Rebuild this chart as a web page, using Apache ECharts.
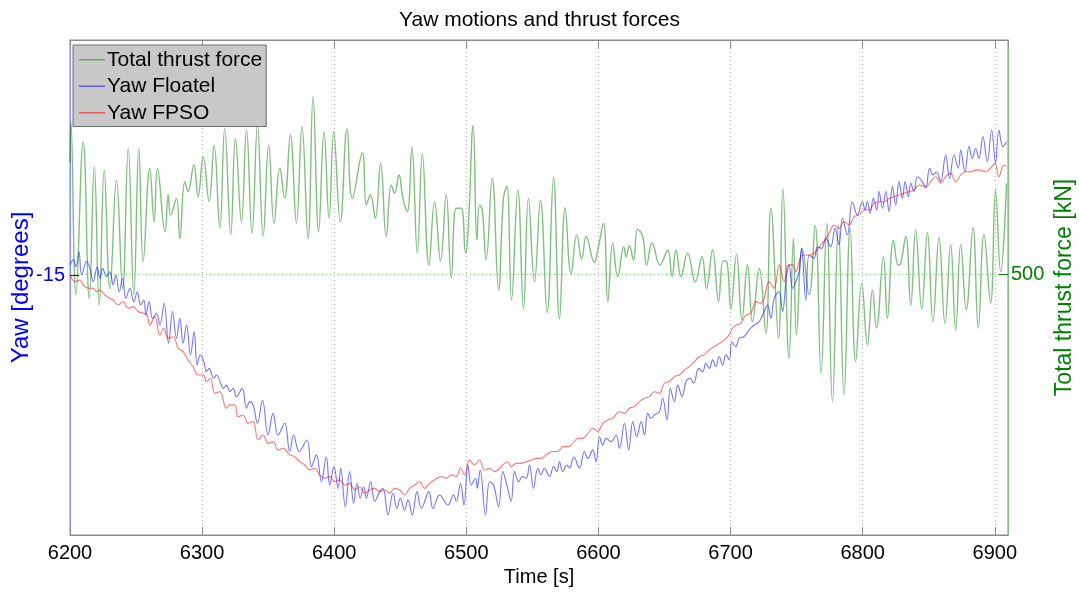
<!DOCTYPE html>
<html>
<head>
<meta charset="utf-8">
<title>Yaw motions and thrust forces</title>
<script src="https://cdn.jsdelivr.net/npm/echarts@6/dist/echarts.min.js"></script>
<style>
  html, body { margin: 0; padding: 0; background: #fff; }
  #chart { width: 1079px; height: 593px; }
</style>
</head>
<body>
<div id="chart"></div>
<script>
// Total thrust force [kN] (right axis)
const thrustTime = [6200,6200.7,6204.5,6210.0,6214.6,6218.4,6222.1,6225.9,6230.2,6235.2,6239.8,6244.1,6248.3,6252.1,6255.4,6260.4,6263.7,6266.2,6272.0,6274.3,6276.3,6280.6,6283.1,6286.9,6289.4,6293.7,6297.0,6300.8,6305.3,6309.1,6313.4,6317.1,6321.7,6325.2,6329.8,6333.6,6337.8,6341.9,6346.2,6350.4,6354.5,6358.8,6362.5,6366.8,6371.4,6375.6,6380.2,6384.0,6388.2,6392.3,6396.1,6399.6,6404.6,6409.7,6413.7,6421.3,6424.3,6427.3,6431.1,6435.1,6439.4,6443.2,6445.7,6449.0,6452.0,6455.3,6458.8,6462.9,6466.7,6471.7,6476.0,6480.5,6484.8,6488.6,6492.4,6496.1,6499.4,6501.2,6505.2,6508.0,6510.0,6512.0,6515.0,6519.6,6524.4,6528.1,6530.7,6534.2,6539.0,6543.3,6547.0,6551.6,6556.1,6561.2,6566.0,6570.5,6574.8,6579.3,6583.6,6587.4,6590.7,6597.0,6599.5,6603.8,6607.1,6610.8,6614.6,6619.2,6620.9,6623.4,6626.5,6629.7,6633.5,6636.5,6640.6,6646.6,6652.4,6655.7,6658.7,6662.5,6667.5,6673.3,6678.4,6681.8,6686.4,6690.9,6694.4,6697.0,6700.2,6704.5,6708.6,6712.8,6716.6,6721.7,6726.7,6730.5,6736.3,6739.6,6744.3,6747.6,6749.9,6754.4,6759.5,6764.0,6768.5,6772.8,6777.1,6781.6,6785.9,6790.5,6794.7,6799.3,6803.6,6807.4,6810.4,6815.7,6818.7,6823.3,6827.0,6828.8,6832.6,6836.4,6840.1,6844.7,6849.0,6853.2,6857.8,6862.3,6866.6,6870.4,6874.2,6878.4,6883.5,6887.5,6891.8,6896.8,6900.6,6904.4,6908.9];
const thrustKN = [716,793,461,755,454,707,441,700,473,681,473,742,461,742,525,704,601,704,582,653,614,646,569,678,659,710,649,726,640,748,589,780,576,761,601,777,579,787,573,748,598,704,646,768,598,784,569,841,582,774,608,774,601,780,646,733,633,653,608,713,573,672,656,691,646,621,745,541,731,518,640,526,653,494,627,627,541,576,786,566,633,624,528,685,470,646,669,451,662,434,646,486,642,427,686,415,628,502,576,529,573,523,547,598,448,560,496,553,534,555,528,587,573,518,560,518,547,496,547,496,541,486,534,473,547,448,526,525,434,539,413,519,409,512,387,627,377,665,339,569,384,550,461,594,310,598,256,595,269,589,333,483,365,470,397,534,416,566,518,521,573,441,585,434,581,409,571,406,557,393,557,432,590,397,577,445,662,505,675];

// Yaw of the floatel [degrees] (left axis)
const floatelTime = [6200.0,6202.5,6204.5,6206.8,6208.8,6212.6,6215.1,6217.6,6220.6,6222.6,6224.7,6227.7,6230.2,6232.7,6234.7,6237.3,6239.8,6242.3,6245.3,6248.3,6250.9,6253.4,6255.9,6257.4,6259.9,6262.5,6265.5,6268.0,6271.3,6274.6,6277.6,6280.6,6283.1,6285.6,6288.2,6291.2,6294.0,6296.2,6298.7,6301.3,6303.3,6305.3,6308.8,6310.8,6314.6,6315.9,6318.4,6321.0,6323.5,6326.0,6330.3,6333.6,6336.1,6338.6,6341.9,6345.7,6349.9,6353.7,6357.5,6362.5,6366.3,6369.3,6373.4,6379.4,6382.7,6386.5,6390.3,6394.0,6396.6,6399.8,6402.9,6404.9,6408.4,6411.7,6414.7,6417.2,6419.7,6422.3,6424.3,6427.6,6430.6,6434.4,6436.9,6440.7,6444.5,6447.5,6450.0,6453.3,6455.8,6459.1,6462.6,6465.9,6471.7,6474.7,6479.8,6486.1,6490.3,6492.4,6495.6,6498.2,6501.2,6503.7,6507.0,6508.2,6510.5,6514.5,6517.6,6520.6,6524.4,6527.6,6530.7,6533.9,6536.5,6539.7,6542.3,6545.3,6547.8,6550.8,6554.1,6556.6,6559.1,6563.0,6566.0,6568.5,6570.5,6573.0,6576.1,6578.1,6581.4,6585.6,6589.4,6591.9,6595.7,6598.2,6600.8,6603.3,6605.8,6609.6,6613.4,6615.9,6619.7,6622.9,6626.0,6629.0,6632.3,6634.8,6637.3,6639.8,6642.3,6646.1,6648.6,6651.9,6654.4,6657.5,6660.0,6663.3,6666.3,6669.3,6672.1,6675.9,6678.9,6681.3,6683.9,6686.4,6688.9,6691.4,6694.0,6696.5,6699.0,6701.0,6704.0,6706.5,6710.3,6714.1,6717.9,6721.7,6725.4,6728.0,6730.5,6733.0,6736.8,6739.3,6742.3,6744.3,6746.9,6749.4,6751.9,6753.7,6757.0,6759.5,6763.2,6765.8,6769.0,6772.1,6775.8,6779.1,6782.1,6784.7,6788.4,6792.2,6796.0,6799.8,6801.8,6803.6,6805.6,6808.1,6810.7,6812.4,6815.0,6817.5,6820.0,6822.5,6825.0,6827.5,6830.1,6832.1,6834.6,6836.4,6838.9,6841.4,6845.2,6847.7,6850.7,6853.2,6855.8,6859.0,6862.8,6865.8,6869.1,6872.4,6874.2,6877.4,6880.5,6883.0,6885.5,6888.0,6891.0,6894.3,6897.6,6900.6,6903.1,6906.2,6909.0];
const floatelYaw = [-14.54,-14.33,-14.62,-13.98,-14.97,-14.40,-14.69,-15.25,-14.62,-15.11,-14.69,-15.04,-14.83,-15.39,-14.97,-15.68,-15.11,-15.96,-15.53,-16.10,-15.68,-16.24,-16.03,-16.67,-16.10,-16.81,-16.59,-17.09,-16.17,-17.87,-16.52,-17.66,-16.81,-17.87,-17.09,-18.36,-17.37,-18.79,-18.36,-18.65,-19.07,-18.93,-19.35,-19.21,-19.64,-19.78,-19.64,-19.92,-19.78,-20.13,-19.78,-20.62,-20.34,-20.48,-21.26,-20.27,-21.76,-20.84,-21.76,-21.26,-22.46,-21.76,-22.46,-21.97,-23.10,-22.60,-23.74,-22.68,-23.88,-23.10,-24.02,-23.17,-24.80,-23.31,-24.65,-23.81,-24.44,-23.95,-24.44,-23.74,-24.58,-24.16,-24.02,-25.15,-24.23,-24.87,-24.44,-24.94,-24.51,-25.15,-24.16,-24.87,-24.16,-24.87,-24.30,-24.73,-24.30,-24.58,-23.81,-24.73,-23.03,-23.88,-23.59,-24.02,-23.24,-25.15,-23.74,-23.88,-24.80,-23.31,-23.88,-24.58,-23.31,-23.74,-23.52,-23.59,-23.03,-24.02,-23.17,-23.45,-23.17,-23.52,-23.10,-23.31,-22.89,-23.31,-23.03,-23.17,-22.68,-23.17,-22.46,-22.75,-22.39,-22.89,-21.83,-22.18,-21.90,-22.04,-21.76,-22.32,-21.26,-22.39,-21.19,-21.83,-21.19,-21.76,-20.84,-21.05,-20.91,-20.77,-20.20,-21.12,-19.78,-20.34,-19.64,-20.13,-19.49,-19.35,-19.56,-18.93,-19.07,-18.72,-18.93,-18.57,-18.86,-18.43,-18.79,-18.36,-18.57,-17.80,-18.01,-17.66,-17.58,-17.30,-17.09,-16.95,-16.52,-16.24,-16.81,-15.96,-15.68,-16.52,-15.04,-14.54,-15.53,-15.25,-14.83,-13.84,-16.03,-14.12,-14.26,-13.77,-13.84,-13.41,-13.77,-12.99,-13.70,-12.56,-13.27,-11.86,-12.42,-11.86,-12.21,-11.86,-12.35,-11.72,-12.21,-11.43,-12.14,-11.43,-12.28,-11.22,-12.00,-11.01,-11.72,-11.01,-11.65,-11.08,-11.43,-10.80,-11.01,-11.29,-10.44,-10.73,-10.59,-11.01,-9.88,-10.87,-9.88,-10.44,-9.67,-10.59,-9.52,-10.02,-9.60,-10.02,-9.10,-10.16,-8.82,-10.23,-8.82,-9.52,-9.31];

// Yaw of the FPSO [degrees] (left axis)
const fpsoTime = [6200.0,6203.7,6207.5,6210.0,6213.8,6217.6,6220.1,6222.6,6226.4,6230.2,6232.7,6236.5,6240.3,6244.1,6247.8,6251.6,6255.4,6258.4,6260.4,6264.2,6268.0,6271.0,6274.3,6278.1,6281.9,6285.6,6289.4,6293.2,6297.0,6300.8,6303.3,6306.3,6309.6,6313.4,6318.4,6321.0,6324.7,6327.3,6331.0,6334.8,6338.6,6342.4,6346.2,6349.9,6353.7,6357.5,6361.3,6366.3,6370.1,6373.9,6377.7,6381.4,6385.2,6389.0,6392.8,6396.6,6400.3,6404.1,6407.9,6411.7,6415.5,6419.2,6423.0,6426.8,6430.6,6434.4,6438.2,6442.0,6445.7,6449.5,6453.3,6457.1,6460.9,6464.6,6468.4,6472.2,6476.0,6481.0,6484.8,6488.6,6492.4,6495.6,6498.7,6502.4,6506.2,6510.0,6513.8,6517.6,6521.3,6525.1,6528.9,6531.4,6533.9,6537.7,6541.5,6545.3,6549.1,6552.8,6556.6,6560.4,6565.5,6569.3,6573.0,6576.8,6580.6,6584.4,6588.2,6592.0,6595.7,6599.5,6603.3,6607.1,6610.8,6615.9,6619.7,6623.4,6627.2,6631.0,6634.8,6638.6,6642.3,6646.1,6649.9,6653.7,6657.5,6661.2,6665.0,6668.8,6672.6,6676.4,6680.1,6683.9,6687.6,6691.4,6695.2,6699.0,6701.5,6704.5,6707.8,6711.6,6715.4,6719.1,6722.9,6725.4,6729.2,6733.0,6736.8,6740.6,6743.8,6746.9,6749.4,6753.2,6757.0,6760.7,6764.5,6768.3,6771.6,6774.6,6778.4,6782.1,6785.9,6789.7,6793.5,6797.3,6801.0,6804.9,6808.6,6812.4,6816.2,6820.0,6823.8,6827.5,6831.3,6835.1,6838.9,6842.7,6847.7,6851.5,6855.3,6859.0,6862.8,6866.6,6870.4,6874.2,6877.9,6881.7,6885.5,6889.3,6893.1,6896.8,6900.1,6903.1,6906.9,6908.9];
const fpsoYaw = [-14.94,-15.25,-15.18,-15.39,-15.53,-15.53,-15.68,-15.61,-15.82,-15.96,-16.03,-16.24,-16.10,-16.38,-16.31,-16.52,-16.59,-16.67,-17.09,-16.74,-17.51,-17.23,-17.66,-17.59,-18.08,-18.22,-18.57,-18.86,-19.21,-19.21,-19.49,-19.35,-19.99,-19.92,-20.62,-20.48,-20.48,-20.98,-20.91,-21.26,-21.19,-21.97,-21.76,-22.11,-22.04,-22.39,-22.32,-22.60,-22.68,-22.89,-23.03,-23.24,-23.17,-23.45,-23.59,-23.52,-23.74,-23.66,-23.88,-23.81,-24.09,-23.95,-24.23,-24.09,-24.02,-24.16,-24.09,-24.23,-24.02,-24.09,-24.30,-24.02,-23.88,-23.74,-24.02,-23.81,-23.66,-23.52,-23.59,-23.45,-23.52,-23.17,-23.45,-22.82,-23.03,-22.82,-23.24,-23.17,-23.31,-23.17,-22.96,-22.89,-23.10,-22.96,-22.96,-22.89,-22.82,-22.75,-22.75,-22.60,-22.46,-22.46,-22.25,-22.25,-22.11,-21.90,-21.90,-21.69,-21.47,-21.61,-21.26,-21.12,-21.05,-20.77,-20.84,-20.62,-20.55,-20.34,-20.20,-20.13,-19.92,-19.99,-19.56,-19.49,-19.28,-19.21,-19.00,-18.86,-18.65,-18.43,-18.36,-18.15,-18.01,-17.87,-17.73,-17.51,-17.23,-17.09,-17.02,-16.67,-16.59,-16.10,-16.17,-15.96,-15.25,-15.53,-14.54,-15.25,-14.54,-14.54,-14.83,-14.19,-14.12,-14.12,-13.98,-13.70,-13.48,-13.20,-12.85,-12.99,-12.71,-12.85,-12.49,-12.42,-12.21,-12.21,-11.93,-11.86,-11.86,-11.72,-11.65,-11.58,-11.50,-11.43,-11.36,-11.15,-11.22,-11.01,-10.80,-11.08,-10.80,-10.66,-11.01,-10.73,-10.59,-10.59,-10.52,-10.52,-10.59,-10.44,-10.23,-10.80,-10.30,-10.37];

const seriesNames = ['Total thrust force', 'Yaw Floatel', 'Yaw FPSO'];
const seriesColors = ['rgb(0,128,0)', 'rgb(0,0,255)', 'rgb(255,0,0)'];

const pairs = (xs, ys) => xs.map((x, i) => [x, ys[i]]);

const FONT = '"Liberation Sans", Arial, sans-serif';
const chart = echarts.init(document.getElementById('chart'), null, { renderer: 'canvas' });

chart.setOption({
  animation: false,
  backgroundColor: '#ffffff',
  textStyle: { fontFamily: FONT },
  title: {
    text: 'Yaw motions and thrust forces',
    left: 'center',
    top: 5,
    textStyle: { fontFamily: FONT, fontSize: 21, fontWeight: 'normal', color: '#000' }
  },
  legend: {
    orient: 'vertical',
    left: 73,
    top: 45,
    data: seriesNames,
    icon: 'rect',
    backgroundColor: '#c8c8c8',
    borderColor: '#6e6e6e',
    borderWidth: 1,
    borderRadius: 0,
    padding: [4, 4, 3, 6],
    itemWidth: 26,
    itemHeight: 1.5,
    itemGap: 5,
    textStyle: { fontFamily: FONT, fontSize: 21, lineHeight: 21.5, color: '#000', padding: [0, 0, 0, -3] }
  },
  grid: {
    left: 70, right: 71, top: 40, bottom: 58,
    outerBoundsMode: 'none',
    show: true, borderColor: '#8a8a8a', borderWidth: 1, backgroundColor: 'transparent'
  },
  xAxis: [{
    type: 'value',
    min: 6200, max: 6910, interval: 100,
    name: 'Time [s]', nameLocation: 'middle', nameGap: 31,
    nameTextStyle: { fontFamily: FONT, fontSize: 20, color: '#000' },
    axisLine: { show: true, lineStyle: { color: '#8a8a8a', width: 1 } },
    axisTick: { show: true, inside: true, length: 8, lineStyle: { color: '#8a8a8a' } },
    axisLabel: { fontFamily: FONT, fontSize: 20, color: '#000', margin: 8, showMaxLabel: false,
                 formatter: (v) => String(v) },
    splitLine: { show: true, lineStyle: { color: '#b4b4b4', type: [1, 3], width: 1 } }
  }, {
    type: 'value', position: 'top',
    min: 6200, max: 6910, interval: 100,
    axisLine: { show: true, lineStyle: { color: '#8a8a8a', width: 1 } },
    axisTick: { show: true, inside: true, length: 8, lineStyle: { color: '#8a8a8a' } },
    axisLabel: { show: false },
    splitLine: { show: false }
  }],
  yAxis: [{
    type: 'value', position: 'left',
    min: -26, max: -5, interval: 11,
    name: 'Yaw [degrees]', nameLocation: 'middle', nameGap: 37, nameMoveOverlap: false,
    nameTextStyle: { fontFamily: FONT, fontSize: 24, color: '#0000ff' },
    axisLine: { show: true, lineStyle: { color: '#8c8cff', width: 1 } },
    axisTick: { show: true, inside: true, length: 9, lineStyle: { color: '#0000ff' } },
    axisLabel: { fontFamily: FONT, fontSize: 20, color: '#0000ff', margin: 5, showMinLabel: false, showMaxLabel: false },
    splitLine: { show: false }
  }, {
    type: 'value', position: 'right',
    min: 0, max: 950, interval: 500,
    name: 'Total thrust force [kN]', nameLocation: 'middle', nameGap: 45, nameMoveOverlap: false,
    nameTextStyle: { fontFamily: FONT, fontSize: 23, color: '#008000' },
    axisLine: { show: true, lineStyle: { color: '#7fbf7f', width: 1 } },
    axisTick: { show: true, inside: true, length: 9, lineStyle: { color: '#008000' } },
    axisLabel: { fontFamily: FONT, fontSize: 20, color: '#008000', margin: 3, showMinLabel: false, showMaxLabel: false },
    splitLine: { show: true, lineStyle: { color: '#7fc97f', type: [1, 3], width: 1 } }
  }],
  series: [{
    name: seriesNames[0], type: 'line', xAxisIndex: 0, yAxisIndex: 1,
    data: pairs(thrustTime, thrustKN),
    symbol: 'none', smooth: 0.45,
    lineStyle: { color: seriesColors[0], width: 1.4, opacity: 0.5 },
    itemStyle: { color: seriesColors[0], opacity: 0.5 }
  }, {
    name: seriesNames[1], type: 'line', xAxisIndex: 0, yAxisIndex: 0,
    data: pairs(floatelTime, floatelYaw),
    symbol: 'none', smooth: 0.4,
    lineStyle: { color: seriesColors[1], width: 1.1, opacity: 0.55 },
    itemStyle: { color: seriesColors[1], opacity: 0.55 }
  }, {
    name: seriesNames[2], type: 'line', xAxisIndex: 0, yAxisIndex: 0,
    data: pairs(fpsoTime, fpsoYaw),
    symbol: 'none', smooth: 0.4,
    lineStyle: { color: seriesColors[2], width: 1.1, opacity: 0.55 },
    itemStyle: { color: seriesColors[2], opacity: 0.55 }
  }]
});
</script>
</body>
</html>
